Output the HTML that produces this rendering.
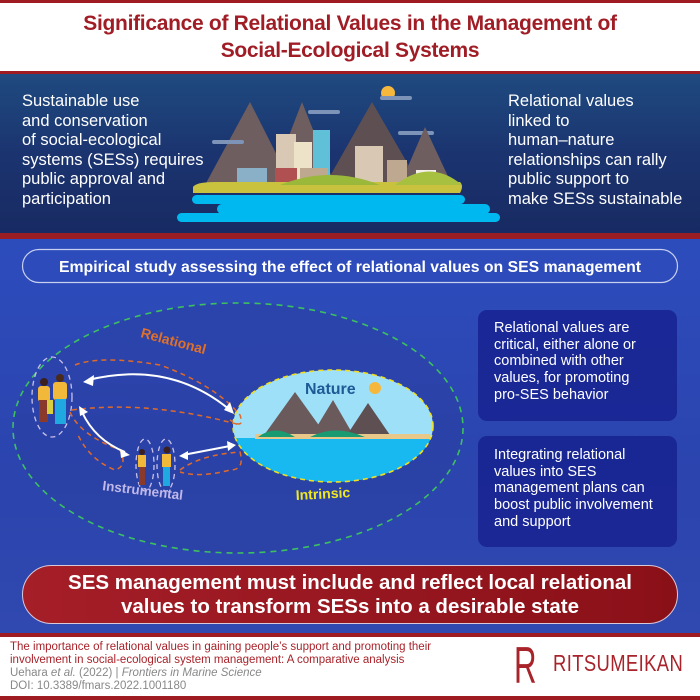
<!DOCTYPE html>
<html><head><meta charset="utf-8"><style>
*{margin:0;padding:0;box-sizing:border-box}
body{width:700px;height:700px;overflow:hidden;font-family:"Liberation Sans",sans-serif;background:#fff;position:relative}
.abs{position:absolute}
</style></head><body>
<div class="abs" style="left:0;top:0;width:700px;height:3px;background:#9e1b22"></div>
<div class="abs" style="left:0;top:10px;width:700px;text-align:center;color:#a01d26;font-weight:bold;font-size:21px;line-height:27px;letter-spacing:-0.3px">Significance of Relational Values in the Management of<br>Social-Ecological Systems</div>
<div class="abs" style="left:0;top:71px;width:700px;height:3px;background:#9e1b22"></div>
<div class="abs" style="left:0;top:74px;width:700px;height:159px;background:linear-gradient(180deg,#1f4a80 0%,#1b3470 50%,#182a62 100%)"></div>
<div class="abs" style="left:0;top:233px;width:700px;height:6px;background:#9b1d24"></div>
<div class="abs" style="left:0;top:239px;width:700px;height:394px;background:linear-gradient(180deg,#2d4cbc 0%,#2b44ae 60%,#3049b0 100%)"></div>
<div class="abs" style="left:0;top:633px;width:700px;height:4px;background:#9e1b22"></div>
<div class="abs" style="left:0;top:696px;width:700px;height:4px;background:#9e1b22"></div>

<div class="abs" style="left:22px;top:92px;color:#fff;font-size:16.5px;line-height:19.5px">Sustainable use<br>and conservation<br>of social-ecological<br>systems (SESs) requires<br>public approval and<br>participation</div>
<div class="abs" style="left:508px;top:92px;color:#fff;font-size:16.5px;line-height:19.5px">Relational values<br>linked to<br>human–nature<br>relationships can rally<br>public support to<br>make SESs sustainable</div>

<svg class="abs" style="left:0;top:0" width="700" height="700">
<circle cx="388" cy="93" r="7" fill="#f6b83c"/>
<rect x="380" y="96" width="32" height="4" rx="2" fill="#7d93b8"/>
<rect x="308" y="110" width="32" height="4" rx="2" fill="#7d93b8"/>
<rect x="398" y="131" width="36" height="4" rx="2" fill="#7d93b8"/>
<polygon points="250,102 205,185 292,185" fill="#6e5e60"/>
<polygon points="302,102 270,185 335,185" fill="#6e5e60"/>
<polygon points="372,102 325,185 420,185" fill="#5e4f52"/>
<polygon points="425,127 400,185 452,185" fill="#6e5e60"/>
<rect x="212" y="140" width="32" height="4" rx="2" fill="#7d93b8"/>
<rect x="276" y="134" width="20" height="52" fill="#d8c8b4"/>
<rect x="294" y="142" width="18" height="44" fill="#ece3c8"/>
<rect x="313" y="130" width="17" height="56" fill="#5fc0d8"/>
<rect x="355" y="146" width="28" height="40" fill="#d8c8b4"/>
<rect x="237" y="168" width="30" height="20" fill="#8ab0c8"/>
<rect x="275" y="168" width="22" height="20" fill="#b05050"/>
<rect x="300" y="168" width="28" height="20" fill="#bfa890"/>
<rect x="327" y="178" width="28" height="15" fill="#bfa890"/>
<rect x="387" y="160" width="20" height="25" fill="#bfa890"/>
<rect x="416" y="170" width="20" height="22" fill="#f4efe8"/>
<path d="M193,187 Q196,182 215,182 L460,182 Q464,186 460,193 L193,193 Z" fill="#c8c23e"/>
<path d="M280,185 Q330,165 380,185 Z" fill="#9ab83a"/>
<path d="M395,185 Q430,158 462,185 Z" fill="#a8c040"/>
<g fill="#00b8f0">
<rect x="192" y="195" width="273" height="9" rx="4.5"/>
<rect x="217" y="204" width="273" height="10" rx="5"/>
<rect x="177" y="213" width="323" height="9" rx="4.5"/>
</g>
<rect x="22.5" y="249.5" width="655" height="33" rx="16.5" fill="none" stroke="#c8d0f0" stroke-width="1.2"/>
<text x="350" y="272" text-anchor="middle" font-family="Liberation Sans" font-weight="bold" font-size="15.8" fill="#fff">Empirical study assessing the effect of relational values on SES management</text>
<ellipse cx="238" cy="428" rx="225" ry="125" fill="#2a3f9e" fill-opacity="0.45" stroke="#3cc060" stroke-width="1.6" stroke-dasharray="6,5"/>
<ellipse cx="333" cy="426" rx="100" ry="56" fill="#9ee0f8"/>
<path d="M235,438 L431,438 A100,56 0 0 1 333,482 A100,56 0 0 1 235,438 Z" fill="#18b8f0"/>
<polygon points="295,392 262,438 328,438" fill="#6a5a5c"/>
<polygon points="333,400 310,438 355,438" fill="#6a5a5c"/>
<polygon points="368,403 345,438 392,438" fill="#5e4f52"/>
<rect x="255" y="434" width="175" height="5" fill="#e8c888"/>
<path d="M258,437 Q275,424 295,437 Z M310,437 Q335,424 365,437 Z" fill="#1a9a70"/>
<ellipse cx="333" cy="426" rx="100" ry="56" fill="none" stroke="#f0e020" stroke-width="1.6" stroke-dasharray="5,4"/>
<text x="305" y="394" font-family="Liberation Sans" font-weight="bold" font-size="16" fill="#1d5a96">Nature</text>
<circle cx="375" cy="388" r="6" fill="#f6b83c"/>
<g fill="none" stroke="#e06a28" stroke-width="1.5" stroke-dasharray="5,4">
<path d="M75,365 Q100,355 160,365 Q215,385 240,415 Q245,430 230,420"/>
<path d="M72,410 Q150,400 240,425"/>
<path d="M70,412 Q80,435 120,450 Q128,466 115,470 Q90,460 78,435"/>
<path d="M180,470 Q200,455 240,452 Q245,470 230,470 Q200,478 180,472"/>
</g>
<g fill="none" stroke="#fff" stroke-width="2">
<path d="M88,380 Q170,360 230,410"/>
<path d="M82,412 Q95,440 125,452"/>
<path d="M183,455 L230,446"/>
</g>
<g fill="#fff">
<polygon points="83,382 94,375 93,386"/>
<polygon points="234,414 224,410 230,402"/>
<polygon points="79,406 88,412 80,416"/>
<polygon points="130,455 120,449 121,458"/>
<polygon points="179,456 188,451 188,460"/>
<polygon points="236,445 227,441 228,451"/>
</g>
<ellipse cx="52" cy="397" rx="20" ry="40" fill="none" stroke="#c8c0e8" stroke-width="1.3" stroke-dasharray="5,4"/>
<ellipse cx="145" cy="465" rx="9" ry="26" fill="none" stroke="#c8c0e8" stroke-width="1.3" stroke-dasharray="5,4"/>
<ellipse cx="166" cy="465" rx="9" ry="26" fill="none" stroke="#c8c0e8" stroke-width="1.3" stroke-dasharray="5,4"/>
<g>
<circle cx="44" cy="382" r="4" fill="#3a2020"/><rect x="38" y="386" width="12" height="16" rx="3" fill="#f2b83a"/><rect x="39" y="400" width="9" height="22" fill="#8a3a2a"/>
<circle cx="60" cy="378" r="4" fill="#4a2a1a"/><rect x="53" y="382" width="14" height="18" rx="3" fill="#f2b83a"/><rect x="55" y="399" width="11" height="25" fill="#20a8e0"/>
<rect x="47" y="400" width="6" height="14" fill="#d8d040"/>
<circle cx="142" cy="452" r="3" fill="#3a2020"/><rect x="138" y="455" width="8" height="12" fill="#f2b83a"/><rect x="139" y="467" width="6" height="18" fill="#8a3a2a"/>
<circle cx="167" cy="450" r="3.5" fill="#3a2020"/><rect x="162" y="454" width="9" height="13" fill="#f2b83a"/><rect x="163" y="467" width="7" height="19" fill="#20a8e0"/>
</g>
<text transform="translate(140,337) rotate(15)" font-family="Liberation Sans" font-weight="bold" font-size="14" fill="#e0702a">Relational</text>
<text transform="translate(102,490) rotate(7)" font-family="Liberation Sans" font-weight="bold" font-size="13.5" fill="#c0b8e8">Instrumental</text>
<text transform="translate(296,500) rotate(-3)" font-family="Liberation Sans" font-weight="bold" font-size="14" fill="#f0e820">Intrinsic</text>
</svg>

<div class="abs" style="left:478px;top:310px;width:199px;height:111px;border-radius:9px;background:rgba(20,30,140,0.75);color:#fff;font-size:14.5px;line-height:16.7px;padding:10px 0 0 16px;white-space:nowrap">Relational values are<br>critical, either alone or<br>combined with other<br>values, for promoting<br>pro-SES behavior</div>
<div class="abs" style="left:478px;top:436px;width:199px;height:111px;border-radius:9px;background:rgba(20,30,140,0.75);color:#fff;font-size:14.5px;line-height:16.7px;padding:11px 0 0 16px;white-space:nowrap">Integrating relational<br>values into SES<br>management plans can<br>boost public involvement<br>and support</div>

<div class="abs" style="left:22px;top:565px;width:656px;height:59px;border-radius:30px;background:linear-gradient(90deg,#a51e28,#8a1018);border:1px solid #d8c8d8;color:#fff;font-weight:bold;font-size:20.5px;line-height:24px;text-align:center;padding-top:5px">SES management must include and reflect local relational<br>values to transform SESs into a desirable state</div>

<div class="abs" style="left:10px;top:641px;font-size:11.5px;line-height:13px;color:#a8232a">The importance of relational values in gaining people’s support and promoting their<br>involvement in social-ecological system management: A comparative analysis</div>
<div class="abs" style="left:10px;top:667px;font-size:11.5px;line-height:13px;color:#888">Uehara <i>et al.</i> (2022) | <i>Frontiers in Marine Science</i><br>DOI: 10.3389/fmars.2022.1001180</div>
<div class="abs" style="left:514px;top:640px;font-size:52px;line-height:52px;color:#a8232a;transform:scaleX(0.6);transform-origin:left">R</div>
<div class="abs" style="left:553px;top:650px;font-size:23px;line-height:26px;color:#a8232a;letter-spacing:0.5px;transform:scaleX(0.8);transform-origin:left">RITSUMEIKAN</div>
</body></html>
